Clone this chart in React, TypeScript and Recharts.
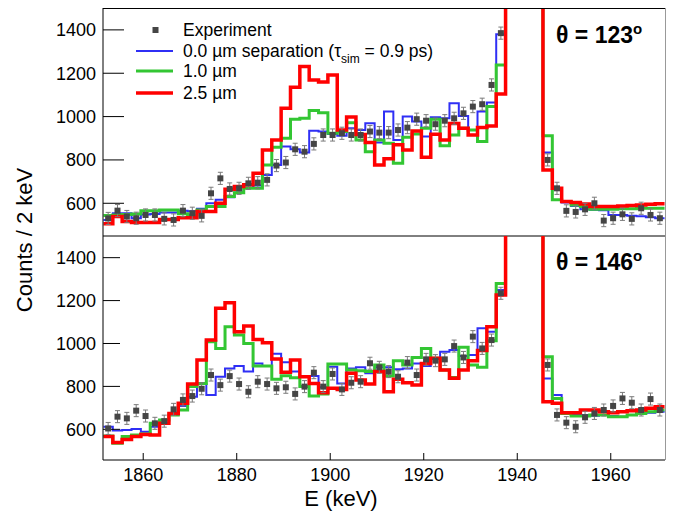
import { ComposedChart, ErrorBar, Line, Scatter, XAxis, YAxis } from 'recharts'

const FONT = '"Liberation Sans", Arial, Helvetica, sans-serif'
const BLUE = '#2f2ff5'
const GREEN = '#33c633'
const RED = '#ff0000'
const MARKER = '#454545'

// 2 keV bins, 1851.5 .. 1971.5
const BIN_LO = 1851.5
const BIN_W = 2
const X_DOMAIN = [1851.4, 1971.6]
const X_TICKS = [1860, 1880, 1900, 1920, 1940, 1960]
const Y_TICKS = [600, 800, 1000, 1200, 1400]
const PK = 3000 // bins 43-46: full-energy peak, off scale
const EXP_ERR = 28

// theta = 123 deg
const EXP_123 = [530, 566, 539, 531, 546, 546, 528, 523, 566, 554, 542, 646, 715, 666, 669, 692, 695, 708, 774, 788,
  849, 838, 874, 915, 915, 923, 915, 915, 931, 926, 926, 938, 949, 988, 981, 965, 981, 992, 1015, 1046,
  1057, 1146, 1385, null, null, null, null, 800, 669, 565, 560, 572, 600, 520, 531, 549, 528, 577, 546, 531]
const SIM00_123 = [523, 554, 554, 531, 548, 550, 558, 558, 565, 563, 575, 600, 616, 628, 650, 672, 682, 731, 777, 862,
  849, 834, 935, 931, 920, 911, 946, 938, 969, 880, 1023, 892, 1000, 977, 908, 997, 992, 1062, 1003, 938,
  1023, 1065, 1380, PK, PK, PK, PK, 834, 665, 603, 588, 573, 570, 568, 546, 546, 543, 540, 535, 531]
const SIM10_123 = [544, 546, 548, 550, 566, 566, 569, 569, 552, 546, 569, 585, 585, 631, 648, 669, 669, 777, 858, 900,
  988, 992, 1028, 1018, 923, 931, 972, 892, 838, 892, 877, 785, 905, 920, 946, 988, 865, 915, 946, 938,
  885, 1046, 1238, PK, PK, PK, PK, 911, 616, 608, 592, 585, 573, 573, 573, 575, 575, 577, 577, 577]
const SIM25_123 = [505, 539, 516, 511, 511, 511, 525, 525, 533, 533, 562, 562, 600, 665, 677, 685, 738, 846, 892, 1038,
  1135, 1231, 1169, 1160, 1192, 938, 998, 917, 880, 777, 806, 870, 846, 933, 812, 918, 892, 968, 946, 915,
  950, 957, 1104, PK, PK, PK, PK, 754, 669, 608, 603, 597, 585, 585, 585, 588, 590, 592, 595, 598]

// theta = 146 deg
const EXP_146 = [604, 659, 651, 687, 662, 628, 638, 693, 737, 755, 789, 853, 806, 848, 811, 775, 822, 811, 791, 796,
  765, 799, 864, 799, 858, 786, 817, 822, 908, 889, 869, 845, 911, 853, 926, 920, 926, 988, 935, 1032,
  977, 1016, 1234, null, null, null, null, 900, 667, 631, 612, 656, 674, 690, 709, 744, 724, 690, 741, 690]
const SIM00_146 = [612, 594, 597, 601, 589, 612, 643, 667, 709, 752, 811, 760, 845, 884, 895, 869, 907, 895, 952, 913,
  870, 848, 848, 796, 892, 814, 884, 889, 861, 889, 889, 880, 884, 907, 895, 931, 962, 970, 942, 946,
  1071, 1055, 1249, PK, PK, PK, PK, 837, 760, 674, 671, 667, 663, 667, 662, 659, 667, 674, 677, 682]
const SIM10_146 = [569, 535, 566, 573, 578, 628, 643, 667, 690, 799, 814, 1008, 977, 1078, 1040, 1000, 895, 895, 833, 850,
  840, 799, 755, 765, 904, 904, 876, 873, 869, 900, 848, 920, 900, 935, 977, 931, 876, 842, 982, 900,
  889, 1013, 1280, PK, PK, PK, PK, 938, 744, 674, 662, 662, 667, 667, 659, 659, 667, 674, 682, 690]
const SIM25_146 = [566, 538, 553, 566, 576, 573, 628, 674, 721, 811, 923, 1016, 1164, 1190, 1055, 1082, 1019, 1004, 928, 866,
  923, 845, 814, 771, 791, 786, 861, 830, 811, 869, 775, 833, 817, 806, 907, 931, 876, 838, 876, 920,
  967, 1078, 1226, PK, PK, PK, PK, 729, 721, 677, 677, 690, 690, 682, 677, 682, 687, 690, 698, 705]

// step histogram: one point per lower edge, plus the last upper edge
const histo = (vals: number[]) => {
  const pts = vals.map((y, i) => ({ x: BIN_LO + BIN_W * i, y }))
  pts.push({ x: BIN_LO + BIN_W * vals.length, y: vals[vals.length - 1] })
  return pts
}

const points = (vals: (number | null)[]) =>
  vals.flatMap((y, i) => (y == null ? [] : [{ x: BIN_LO + BIN_W * (i + 0.5), y, err: EXP_ERR }]))

const square = (p: any) => <rect x={p.cx - 3} y={p.cy - 3} width={6} height={6} fill={MARKER} />

function Panel({ exp, s0, s1, s2, yDomain, height, xAxisHeight, tickLen, labels }: any) {
  return (
    <ComposedChart width={673} height={height} margin={{ top: 8, right: 8, bottom: 0, left: 0 }}>
      <XAxis type="number" dataKey="x" domain={X_DOMAIN} allowDataOverflow ticks={X_TICKS} height={xAxisHeight}
        tickSize={-7} tickMargin={15} tick={labels ? { fontSize: 18, fill: '#000', fontFamily: FONT } : false}
        axisLine={{ stroke: '#000' }} tickLine={{ stroke: '#000' }} />
      <YAxis type="number" dataKey="y" domain={yDomain} allowDataOverflow ticks={Y_TICKS} width={103}
        tickSize={-tickLen} tickMargin={tickLen + 7} tick={{ fontSize: 18, fill: '#000', fontFamily: FONT }}
        axisLine={{ stroke: '#000' }} tickLine={{ stroke: '#000' }} />
      <Line data={histo(s0)} dataKey="y" type="stepAfter" stroke={BLUE} strokeWidth={2} dot={false} isAnimationActive={false} />
      <Line data={histo(s1)} dataKey="y" type="stepAfter" stroke={GREEN} strokeWidth={3} dot={false} isAnimationActive={false} />
      <Line data={histo(s2)} dataKey="y" type="stepAfter" stroke={RED} strokeWidth={3.5} dot={false} isAnimationActive={false} />
      <Scatter data={points(exp)} dataKey="y" shape={square} isAnimationActive={false}>
        <ErrorBar dataKey="err" direction="y" width={2.5} stroke="#7a7a7a" strokeWidth={1} />
      </Scatter>
    </ComposedChart>
  )
}

function Overlay() {
  const t = { fontFamily: FONT, fill: '#000' }
  return (
    <svg width={673} height={512} style={{ position: 'absolute', left: 0, top: 0, pointerEvents: 'none' }}>
      <line x1={103} y1={8.5} x2={665} y2={8.5} stroke="#000" />
      <line x1={665.5} y1={8} x2={665.5} y2={460} stroke="#999" />

      <text {...t} x={24} y={240} fontSize={22} textAnchor="middle" dominantBaseline="central"
        transform="rotate(-90 24 240)">Counts / 2 keV</text>
      <text {...t} x={341} y={498} fontSize={22} textAnchor="middle" dominantBaseline="central">E (keV)</text>

      <text {...t} x={556} y={43} fontSize={23} fontWeight="bold">θ = 123<tspan fontSize={15} dy={-9}>o</tspan></text>
      <text {...t} x={556} y={270} fontSize={23} fontWeight="bold">θ = 146<tspan fontSize={15} dy={-9}>o</tspan></text>

      <rect x={152.5} y={27} width={6} height={6} fill={MARKER} />
      <text {...t} x={183} y={36} fontSize={17.5}>Experiment</text>
      <line x1={136} y1={51} x2={173} y2={51} stroke={BLUE} strokeWidth={2} />
      <text {...t} x={183} y={57} fontSize={17.5}>
        0.0 µm separation (τ<tspan fontSize={12} dy={6}>sim</tspan><tspan dy={-6}> = 0.9 ps)</tspan>
      </text>
      <line x1={136} y1={71} x2={173} y2={71} stroke={GREEN} strokeWidth={3} />
      <text {...t} x={183} y={77} fontSize={17.5}>1.0 µm</text>
      <line x1={136} y1={93} x2={173} y2={93} stroke={RED} strokeWidth={3.5} />
      <text {...t} x={183} y={99} fontSize={17.5}>2.5 µm</text>
    </svg>
  )
}

export default function App() {
  return (
    <div style={{ position: 'absolute', left: 0, top: 0, width: 673, height: 512, background: '#fff' }}>
      <div style={{ position: 'absolute', left: 0, top: 0 }}>
        <Panel exp={EXP_123} s0={SIM00_123} s1={SIM10_123} s2={SIM25_123} yDomain={[449, 1501]}
          height={237} xAxisHeight={1} tickLen={21} labels={false} />
      </div>
      <div style={{ position: 'absolute', left: 0, top: 228 }}>
        <Panel exp={EXP_146} s0={SIM00_146} s1={SIM10_146} s2={SIM25_146} yDomain={[457, 1501]}
          height={284} xAxisHeight={52} tickLen={17} labels />
      </div>
      <Overlay />
    </div>
  )
}
